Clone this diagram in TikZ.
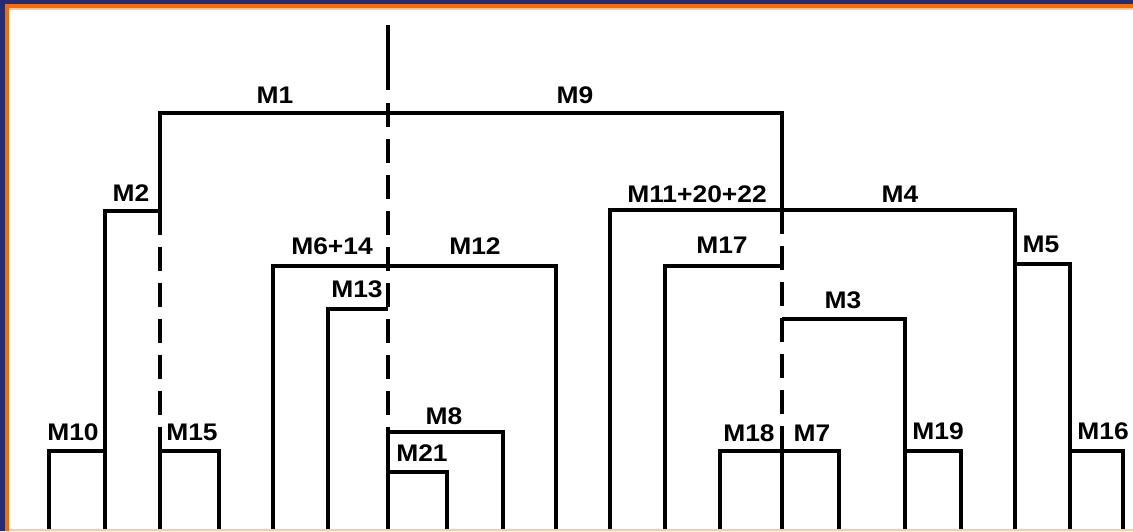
\documentclass[tikz,border=0pt]{standalone}
\usepackage{fontspec}
\usepackage{graphicx}
\setmainfont{Liberation Sans}
\definecolor{frameblue}{HTML}{232C74}
\definecolor{frameorange}{HTML}{FF6A00}
\definecolor{framelight}{HTML}{FFC9A3}
\begin{document}
\begin{tikzpicture}[x=1pt,y=-1pt,
  tree/.style={line width=3.6pt, line join=miter},
  dashtree/.style={line width=3.6pt, dash pattern=on 24pt off 12pt},
  lbl/.style={inner sep=0pt, font=\bfseries\fontsize{24}{24}\selectfont}]
\useasboundingbox (0,0) rectangle (1133,531);
\fill[white] (0,0) rectangle (1133,531);
% frame
\fill[frameblue] (0,0) rectangle (1133,4);
\fill[frameorange] (0,4) rectangle (1133,8);
\fill[framelight] (9,8) rectangle (1133,9.5);
\fill[frameblue] (0,0) rectangle (5,531);
\fill[frameorange] (5,4) rectangle (9,531);
\fill[framelight] (9,529) rectangle (1133,531);
% coordinates
\coordinate (bot) at (0,529);
\coordinate (top1) at (388,25);
\coordinate (top1e) at (388,90);
\coordinate (ax) at (388,103);
\coordinate (axb) at (388,450);
\coordinate (m1L) at (160,113);
\coordinate (m9R) at (782,113);
\coordinate (m2) at (105,211);
\coordinate (m2j) at (160,211);
\coordinate (m10) at (49,451);
\coordinate (m10j) at (105,451);
\coordinate (m15) at (160,451);
\coordinate (m15R) at (219,451);
\coordinate (m4L) at (610,210);
\coordinate (m4j) at (782,210);
\coordinate (m4R) at (1015,210);
\coordinate (m5) at (1015,264);
\coordinate (m5R) at (1070,264);
\coordinate (m16) at (1070,451);
\coordinate (m16R) at (1123,451);
\coordinate (m17L) at (665,266);
\coordinate (m17j) at (782,266);
\coordinate (m3j) at (782,319);
\coordinate (m3R) at (905,319);
\coordinate (m19) at (905,451);
\coordinate (m19R) at (961,451);
\coordinate (m18L) at (720,451);
\coordinate (m7j) at (782,451);
\coordinate (m7R) at (839,451);
\coordinate (m6L) at (273,266);
\coordinate (m12R) at (556,266);
\coordinate (m13L) at (328,309);
\coordinate (m13j) at (388,309);
\coordinate (m8j) at (388,432);
\coordinate (m8R) at (503,432);
\coordinate (m21j) at (388,472);
\coordinate (m21R) at (447,472);
% solid branches
\draw[tree] (m2 |- bot) -- (m2) -- (m2j) -- (m1L) -- (m9R) -- (m4j);
\draw[tree] (m10 |- bot) -- (m10) -- (m10j);
\draw[tree] (m15 |- bot) -- (m15) -- (m15R) -- (m15R |- bot);
\draw[tree] (m4L |- bot) -- (m4L) -- (m4R) -- (m4R |- bot);
\draw[tree] (m5) -- (m5R) -- (m5R |- bot);
\draw[tree] (m16) -- (m16R) -- (m16R |- bot);
\draw[tree] (m17L |- bot) -- (m17L) -- (m17j);
\draw[tree] (m3j) -- (m3R) -- (m3R |- bot);
\draw[tree] (m19) -- (m19R) -- (m19R |- bot);
\draw[tree] (m18L |- bot) -- (m18L) -- (m7R) -- (m7R |- bot);
\draw[tree] (m7j) -- (m7j |- bot);
\draw[tree] (m6L |- bot) -- (m6L) -- (m12R) -- (m12R |- bot);
\draw[tree] (m13L |- bot) -- (m13L) -- (m13j);
\draw[tree] (m8j) -- (m8R) -- (m8R |- bot);
\draw[tree] (m21j) -- (m21R) -- (m21R |- bot);
\draw[tree] (axb) -- (axb |- bot);
% dashed
\draw[tree] (top1) -- (top1e);
\draw[dashtree] (ax) -- (axb);
\draw[dashtree] (m2j) -- (m15);
\draw[dashtree] (m4j) -- (m7j);
% labels
\node[lbl] (l1) at (275,95) {\scalebox{1.1}[1]{M1}};
\node[lbl] (l9) at (575,95) {\scalebox{1.1}[1]{M9}};
\node[lbl] (l2) at (131,193) {\scalebox{1.1}[1]{M2}};
\node[lbl] (l614) at (332,246) {\scalebox{1.1}[1]{M6+14}};
\node[lbl] (l12) at (475,246) {\scalebox{1.1}[1]{M12}};
\node[lbl] (l13) at (357,289) {\scalebox{1.1}[1]{M13}};
\node[lbl] (l8) at (444,416) {\scalebox{1.1}[1]{M8}};
\node[lbl] (l21) at (422,453) {\scalebox{1.1}[1]{M21}};
\node[lbl] (l10) at (73,432) {\scalebox{1.1}[1]{M10}};
\node[lbl] (l15) at (192,432) {\scalebox{1.1}[1]{M15}};
\node[lbl] (l11) at (697,194) {\scalebox{1.1}[1]{M11+20+22}};
\node[lbl] (l4) at (900,194) {\scalebox{1.1}[1]{M4}};
\node[lbl] (l17) at (722,245) {\scalebox{1.1}[1]{M17}};
\node[lbl] (l3) at (843,300) {\scalebox{1.1}[1]{M3}};
\node[lbl] (l5) at (1041,244) {\scalebox{1.1}[1]{M5}};
\node[lbl] (l18) at (749,433) {\scalebox{1.1}[1]{M18}};
\node[lbl] (l7) at (812,433) {\scalebox{1.1}[1]{M7}};
\node[lbl] (l19) at (938,431) {\scalebox{1.1}[1]{M19}};
\node[lbl] (l16) at (1103,431) {\scalebox{1.1}[1]{M16}};
\end{tikzpicture}
\end{document}
